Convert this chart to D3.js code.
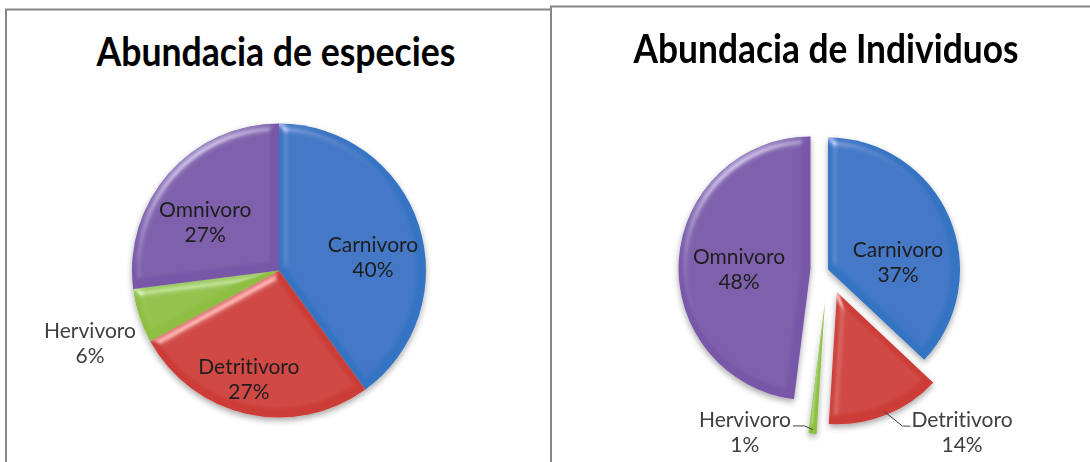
<!DOCTYPE html>
<html>
<head>
<meta charset="utf-8">
<script src="https://cdn.jsdelivr.net/npm/d3@7/dist/d3.min.js"></script>
<style>
  body { margin: 0; background: #fff; }
  svg { display: block; }
  text { font-variant-ligatures: none; }
</style>
</head>
<body>
<svg id="chart" width="1090" height="462"></svg>
<script>
// --- data ---
var categories = ["Carnivoro", "Detritivoro", "Hervivoro", "Omnivoro"];
var especies   = [40, 27, 6, 27];
var individuos = [37, 14, 1, 48];
var titles     = ["Abundacia de especies", "Abundacia de Individuos"];

var color = d3.scaleOrdinal()
    .domain(categories)
    .range(["#3573c3", "#cc3d37", "#8fbf43", "#7857a8"]);

var svg = d3.select("#chart");
var defs = svg.append("defs");

// soft bevel, roughly like the office "3D" pie
var bevel = defs.append("filter").attr("id", "bevel")
    .attr("x", "-10%").attr("y", "-10%").attr("width", "120%").attr("height", "120%");
bevel.append("feGaussianBlur").attr("in", "SourceAlpha").attr("stdDeviation", 4).attr("result", "blur");
var spec = bevel.append("feSpecularLighting").attr("in", "blur")
    .attr("surfaceScale", 5).attr("specularConstant", 0.55).attr("specularExponent", 24)
    .attr("lighting-color", "#ffffff").attr("result", "spec");
spec.append("feDistantLight").attr("azimuth", 235).attr("elevation", 35);
bevel.append("feComposite").attr("in", "spec").attr("in2", "SourceAlpha").attr("operator", "in").attr("result", "specIn");
bevel.append("feComposite").attr("in", "SourceGraphic").attr("in2", "specIn")
    .attr("operator", "arithmetic").attr("k1", 0).attr("k2", 1).attr("k3", 0.7).attr("k4", 0);

var shadow = defs.append("filter").attr("id", "shadow")
    .attr("x", "-10%").attr("y", "-10%").attr("width", "120%").attr("height", "125%");
shadow.append("feGaussianBlur").attr("in", "SourceAlpha").attr("stdDeviation", 3).attr("result", "b");
shadow.append("feOffset").attr("in", "b").attr("dx", 0).attr("dy", 3).attr("result", "o");
shadow.append("feComponentTransfer").attr("in", "o").attr("result", "s")
    .append("feFuncA").attr("type", "linear").attr("slope", 0.35);
var sm = shadow.append("feMerge");
sm.append("feMergeNode").attr("in", "s");
sm.append("feMergeNode").attr("in", "SourceGraphic");

// panel layout
var panels = [
  { x: 6,   y: 9.5, cx: 279, cy: 270.5, r: 147, tx: 276, ty: 66, tw: 359,
    explode: [0, 0, 0, 0],
    // label spot: k * r from the slice centre, at angle a (deg, clockwise from top)
    labels: [{k: .646, a: 81.7}, {k: .766, a: 195.5}, {k: 1.377, a: 249}, {k: .60, a: 303.2}] },
  { x: 551, y: 6.5, cx: 828, cy: 269.5, r: 132, tx: 826, ty: 63, tw: 385,
    explode: [0, 24.5, 33, 17.5],
    labels: [{k: .533, a: 84.3}, {k: 1.424, a: 138.3}, {k: 1.157, a: 211.6}, {k: .542, a: 269.1}] }
];
var series = [especies, individuos];

function polar(a, d) {
  return [Math.sin(a) * d, -Math.cos(a) * d];
}

panels.forEach(function(p, i) {
  var g = svg.append("g");

  g.append("rect")
      .attr("x", p.x).attr("y", p.y)
      .attr("width", i == 0 ? 600 : 700).attr("height", 500)
      .attr("fill", "#fff")
      .attr("stroke", "#878787").attr("stroke-width", 2);

  g.append("text")
      .attr("x", p.tx).attr("y", p.ty)
      .attr("text-anchor", "middle")
      .attr("textLength", p.tw).attr("lengthAdjust", "spacingAndGlyphs")
      .style("font-family", "Lato, 'Open Sans', sans-serif")
      .style("font-weight", "bold")
      .style("font-size", "40px")
      .style("fill", "#000")
      .text(titles[i]);

  var pie = d3.pie().sort(null).value(function(d) { return d; });
  var arcs = pie(series[i]);
  var arc = d3.arc().innerRadius(0).outerRadius(p.r);

  arcs.forEach(function(d, j) {
    var mid = (d.startAngle + d.endAngle) / 2;
    var off = polar(mid, p.explode[j]);
    d.ox = p.cx + off[0];
    d.oy = p.cy + off[1];
    d.mid = mid;
  });

  var pg = g.append("g").attr("filter", "url(#shadow)");
  pg.selectAll("path")
    .data(arcs)
    .enter()
    .append("path")
      .attr("transform", function(d) { return "translate(" + d.ox + "," + d.oy + ")"; })
      .attr("d", arc)
      .attr("fill", function(d, j) { return color(categories[j]); })
      .attr("filter", "url(#bevel)");

  arcs.forEach(function(d, j) {
    var L = p.labels[j];
    var pos = polar(L.a * Math.PI / 180, L.k * p.r);
    var lx = d.ox + pos[0], ly = d.oy + pos[1];
    var outside = L.k > 1;
    var t = g.append("text")
        .attr("text-anchor", "middle")
        .style("font-family", "Lato, 'Open Sans', sans-serif")
        .style("font-size", "21px")
        .style("fill", outside ? "#404040" : "#1e1e1e");
    t.append("tspan").attr("x", lx).attr("y", ly - 12.5).attr("dy", "0.35em").text(categories[j]);
    t.append("tspan").attr("x", lx).attr("y", ly + 12.5).attr("dy", "0.35em").text(series[i][j] + "%");

    // leader lines only where the slice is exploded and the label is outside
    if (outside && p.explode[j] > 0) {
      var bb = t.node().getBBox();
      var tip = polar(d.mid, p.r * 0.97);
      var ex = d.ox + tip[0], ey = d.oy + tip[1];
      var yy = ly - 12.5 + 6;
      var x0, x1;
      if (lx < ex) { x0 = bb.x + bb.width + 2; x1 = x0 + 12; }
      else { x0 = bb.x - 1; x1 = x0 - 8; }
      g.append("path")
          .attr("d", "M" + x0 + "," + yy + "L" + x1 + "," + yy + "L" + ex + "," + ey)
          .attr("fill", "none")
          .attr("stroke", "#404040")
          .attr("stroke-width", 1);
    }
  });
});
</script>
</body>
</html>
